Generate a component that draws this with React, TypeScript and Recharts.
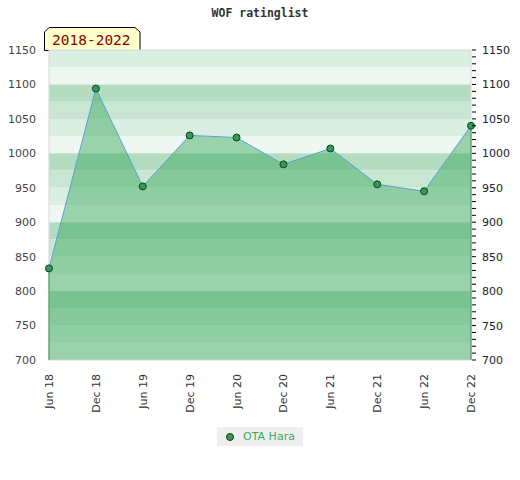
import React from "react";
import {
  Area,
  ComposedChart,
  Legend,
  Line,
  ReferenceArea,
  ReferenceLine,
  XAxis,
  YAxis,
} from "recharts";

const labels = [
  "Jun 18",
  "Dec 18",
  "Jun 19",
  "Dec 19",
  "Jun 20",
  "Dec 20",
  "Jun 21",
  "Dec 21",
  "Jun 22",
  "Dec 22",
];
const ratings = [833, 1094, 952, 1026, 1023, 984, 1007, 955, 945, 1040];
const majorTicks = [700, 750, 800, 850, 900, 950, 1000, 1050, 1100, 1150];
const seriesName = "OTA Hara";
const title = "WOF ratinglist";
const period = "2018-2022";

const data = labels.map((label, i) => ({ label, rating: ratings[i] }));

const yMin = 700;
const yMax = 1150;
const minorTicks = Array.from({ length: (yMax - yMin) / 10 + 1 }, (_, i) => yMin + i * 10);

// 25-point bands, four shades per 100 (darkest at top)
const bandShades = ["#b3dcc0", "#c9e6d3", "#dbeee2", "#eef7f1"];
const bands = Array.from({ length: (yMax - yMin) / 25 }, (_, i) => {
  const top = yMax - i * 25;
  const idx = (((1100 - top) / 25) % 4 + 4) % 4;
  return { y1: top - 25, y2: top, fill: bandShades[idx] };
});

const font = "'DejaVu Sans', sans-serif";
const mono = "'DejaVu Sans Mono', monospace";

const XTick = ({ x, y, payload }: any) => (
  <text
    x={0}
    y={0}
    transform={`translate(${x + 4},${y + 6}) rotate(-90)`}
    textAnchor="end"
    fontSize={11}
    fontFamily={font}
    fill="#333"
  >
    {payload.value}
  </text>
);

const RightTick = ({ x, y, payload }: any) => (
  <g>
    <line x1={x - 1} x2={x + 3} y1={y} y2={y} stroke="#000" />
    {payload.value % 50 === 0 && (
      <text
        x={x + 9}
        y={y + 4}
        fontSize={11}
        fontFamily={font}
        fill="#222"
        textAnchor="start"
      >
        {payload.value}
      </text>
    )}
  </g>
);

const LegendBox = () => (
  <div style={{ display: "flex", justifyContent: "center" }}>
    <div
      style={{
        background: "#efefef",
        height: 19,
        padding: "0 8px 0 8px",
        display: "flex",
        alignItems: "center",
        fontFamily: font,
        fontSize: 11,
        color: "#3aaa5a",
      }}
    >
      <svg width={10} height={10} style={{ marginRight: 8 }}>
        <circle cx={5} cy={5} r={3.5} fill="#2d9e50" stroke="#1b3b22" />
      </svg>
      {seriesName}
    </div>
  </div>
);

export default function App() {
  return (
    <div style={{ position: "absolute", left: 0, top: 0, width: 520, height: 480 }}>
      <div
        style={{
          position: "absolute",
          top: 6,
          left: 0,
          width: 520,
          textAlign: "center",
          fontFamily: mono,
          fontWeight: "bold",
          fontSize: 11.5,
          color: "#333",
        }}
      >
        {title}
      </div>
      <svg
        width={97}
        height={24}
        style={{ position: "absolute", left: 44, top: 27 }}
      >
        <polygon
          points="0.5,23.5 0.5,5 5,0.5 91,0.5 96,5 96,23.5"
          fill="#ffffcc"
          stroke="#000"
        />
        <text x={8} y={18} fontFamily={mono} fontSize={14.5} fill="#8b0000">
          {period}
        </text>
      </svg>
      <ComposedChart
        width={520}
        height={480}
        data={data}
        margin={{ top: 50, right: 0, bottom: 30, left: 0 }}
      >
        {bands.map((b) => (
          <ReferenceArea
            key={b.y2}
            y1={b.y1}
            y2={b.y2}
            fill={b.fill}
            fillOpacity={1}
            stroke="none"
          />
        ))}
        <XAxis
          dataKey="label"
          type="category"
          padding={{ left: 4, right: 2 }}
          height={60}
          axisLine={false}
          tickLine={false}
          tick={<XTick />}
          interval={0}
        />
        <YAxis
          yAxisId={0}
          domain={[yMin, yMax]}
          ticks={majorTicks}
          interval={0}
          width={45}
          axisLine={false}
          tickLine={false}
          tickMargin={3}
          tick={{ fontSize: 11, fill: "#444", fontFamily: font }}
        />
        <YAxis
          yAxisId="right"
          orientation="right"
          domain={[yMin, yMax]}
          ticks={minorTicks}
          interval={0}
          width={47}
          axisLine={false}
          tickLine={false}
          tickSize={0}
          tickMargin={0}
          tick={<RightTick />}
        />
        <Area
          type="linear"
          dataKey="rating"
          name={seriesName}
          stroke="#5aa0d8"
          strokeWidth={1}
          fill="rgb(45,163,82)"
          fillOpacity={0.44}
          dot={{ r: 3.5, fill: "#2d9e50", stroke: "#1b3b22", strokeWidth: 1, fillOpacity: 1 }}
          activeDot={false}
          isAnimationActive={false}
        />
        <Line
          yAxisId="right"
          dataKey="rating"
          stroke="none"
          dot={false}
          activeDot={false}
          legendType="none"
          isAnimationActive={false}
        />
        <ReferenceLine
          segment={[
            { x: labels[0], y: yMin },
            { x: labels[0], y: ratings[0] },
          ]}
          stroke="#2e8b4a"
        />
        <ReferenceLine
          segment={[
            { x: labels[labels.length - 1], y: yMin },
            { x: labels[labels.length - 1], y: ratings[ratings.length - 1] },
          ]}
          stroke="#2e8b4a"
        />
        <ReferenceArea
          y1={yMin}
          y2={yMax}
          fill="none"
          stroke="#d6d6d6"
          strokeWidth={1}
        />
        <Legend
          height={30}
          content={<LegendBox />}
          wrapperStyle={{ top: 427, left: 0, width: 520 }}
        />
      </ComposedChart>
    </div>
  );
}
